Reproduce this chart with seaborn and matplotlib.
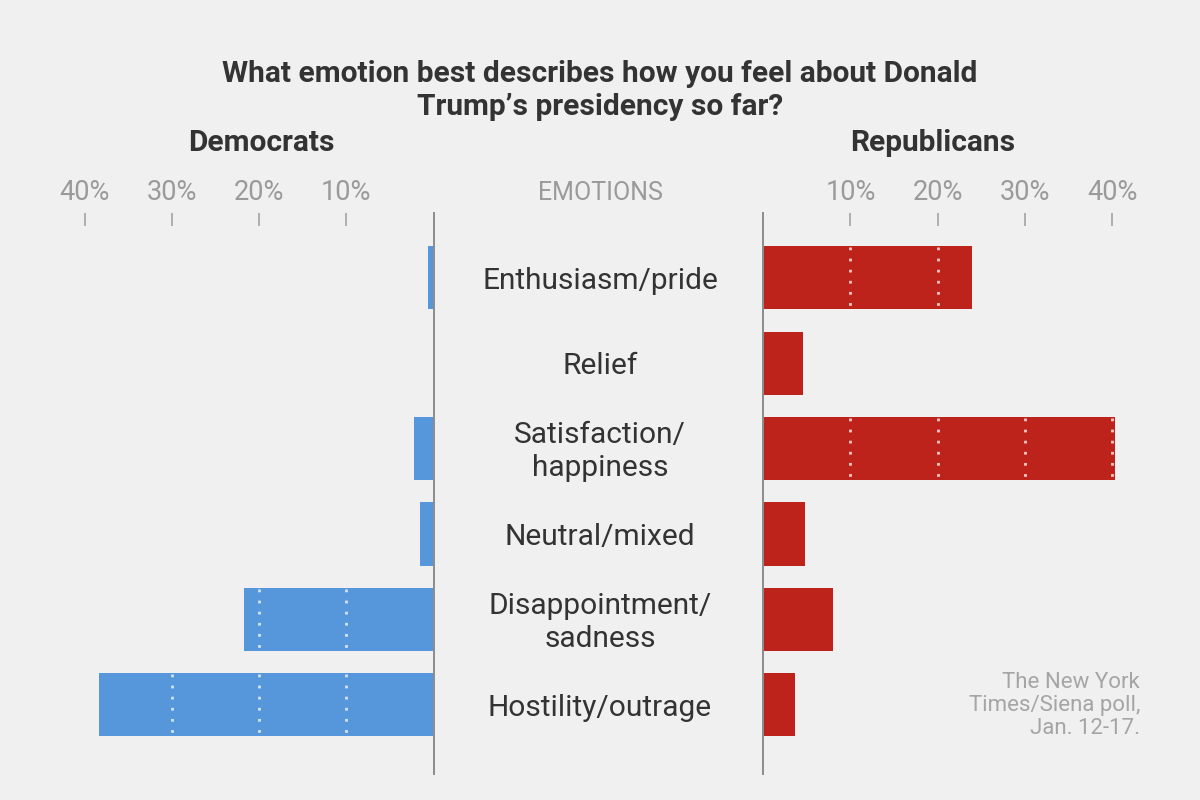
import matplotlib
matplotlib.use("Agg")
import matplotlib.pyplot as plt
import matplotlib.transforms as mtransforms
import seaborn as sns

# data
emotions = ["Enthusiasm/pride", "Relief", "Satisfaction/\nhappiness",
            "Neutral/mixed", "Disappointment/\nsadness", "Hostility/outrage"]
democrats = [0.6, 0, 2.2, 1.5, 21.7, 38.4]
republicans = [23.9, 4.6, 40.3, 4.8, 8.0, 3.6]
tick_vals = [10, 20, 30, 40]
tick_labels = ["10%", "20%", "30%", "40%"]

bg = "#f0f0f0"
blue = "#5597da"
red = "#bd231b"
gray = "#9a9a9a"

sns.set_theme(style="white")
plt.rcParams["font.family"] = ["Roboto", "DejaVu Sans"]

fig = plt.figure(figsize=(12, 8), dpi=100, facecolor=bg)
ax_l = fig.add_axes([0.0488, 0.0325, 0.3125, 0.7013], facecolor=bg)
ax_r = fig.add_axes([0.636, 0.0325, 0.3125, 0.7013], facecolor=bg)

sns.barplot(x=democrats, y=list(range(len(emotions))), orient="h", color=blue,
            width=0.74, linewidth=0, saturation=1, native_scale=True, ax=ax_l)
sns.barplot(x=republicans, y=list(range(len(emotions))), orient="h", color=red,
            width=0.74, linewidth=0, saturation=1, native_scale=True, ax=ax_r)


def style_axis(ax, values, invert):
    ax.set_xlim(0, 43)
    if invert:
        ax.invert_xaxis()
    ax.set_ylim(5.81, -0.76)
    ax.set_yticks([])
    ax.set_ylabel("")
    ax.set_xlabel("")
    for s in ["top", "bottom", "left", "right"]:
        ax.spines[s].set_visible(False)
    zero_side = "right" if invert else "left"
    ax.spines[zero_side].set_visible(True)
    ax.spines[zero_side].set_color("#8c8c8c")
    ax.spines[zero_side].set_linewidth(1.4)
    ax.xaxis.tick_top()
    ax.set_xticks(tick_vals)
    ax.set_xticklabels(tick_labels)
    ax.tick_params(axis="x", direction="in", length=9, width=1.3, color="#aaaaaa",
                   labelcolor=gray, labelsize=19.5, pad=5, top=True, bottom=False)
    # dotted white gridlines shown only inside the bars
    for i, v in enumerate(values):
        for g in tick_vals:
            if g < v:
                ax.vlines(g, i - 0.36, i + 0.36, colors="white", alpha=0.75,
                          linestyles=(0, (1, 3)), linewidth=2, zorder=5)


style_axis(ax_l, democrats, True)
style_axis(ax_r, republicans, False)

# category labels in the centre column
trans = mtransforms.blended_transform_factory(fig.transFigure, ax_r.transData)
trans = mtransforms.offset_copy(trans, fig=fig, y=-3, units="dots")
for i, name in enumerate(emotions):
    fig.text(0.5, i, name, transform=trans, ha="center", va="center",
             fontsize=21.5, color="#333333", linespacing=1.22)

fig.text(0.5, 0.887, "What emotion best describes how you feel about Donald\nTrump\u2019s presidency so far?",
         ha="center", va="center", fontsize=21.5, fontweight="bold", color="#333333", linespacing=1.26)
fig.text(0.218, 0.821, "Democrats", ha="center", va="center", fontsize=21.5,
         fontweight="bold", color="#333333")
fig.text(0.777, 0.821, "Republicans", ha="center", va="center", fontsize=21.5,
         fontweight="bold", color="#333333")
fig.text(0.5, 0.759, "EMOTIONS", ha="center", va="center", fontsize=18, color=gray)
fig.text(0.95, 0.118, "The New York\nTimes/Siena poll,\nJan. 12-17.", ha="right", va="center",
         fontsize=16, color="#a5a5a5", linespacing=1.1)

fig.savefig("out.png", dpi=100, facecolor=bg)
